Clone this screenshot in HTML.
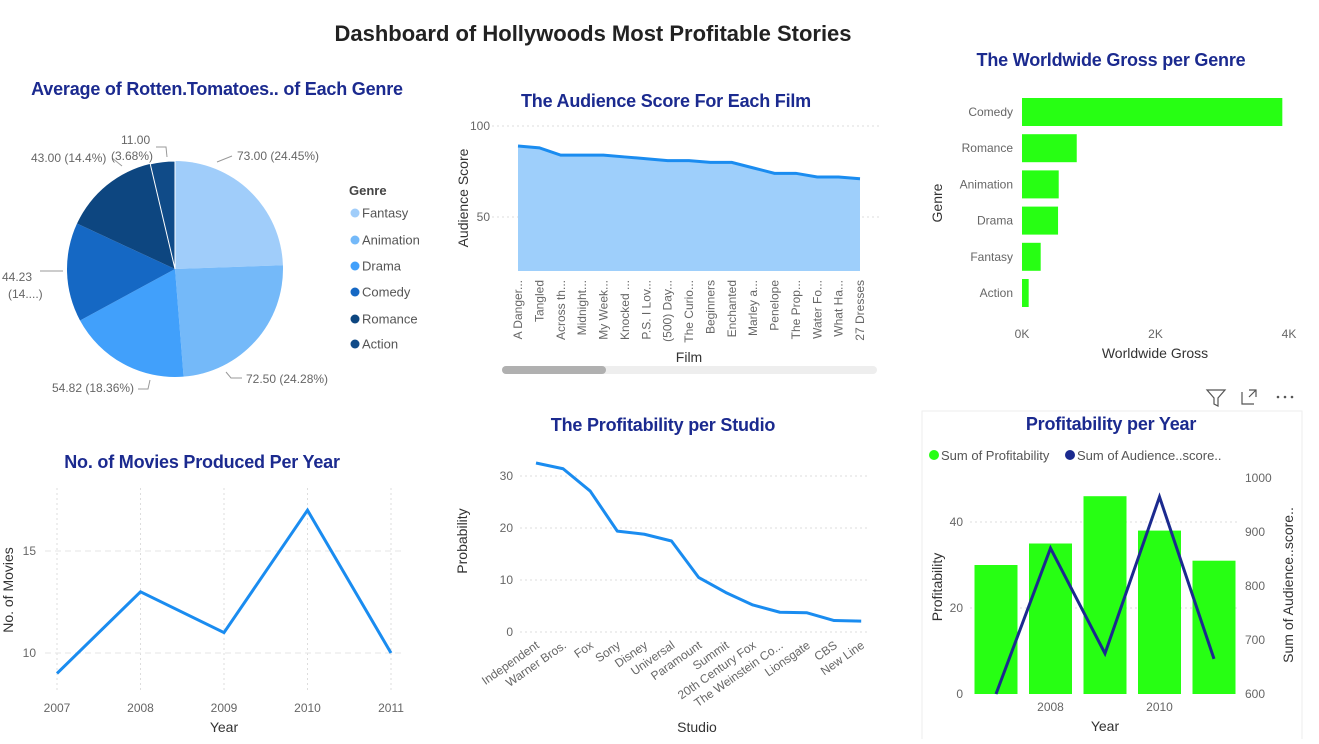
<!DOCTYPE html>
<html><head><meta charset="utf-8"><style>
body{margin:0;background:#fff;width:1319px;height:739px;overflow:hidden;font-family:"Liberation Sans",sans-serif}
svg text{font-family:"Liberation Sans",sans-serif}
.t{font-weight:bold;fill:#1b2a8f;font-size:18px;letter-spacing:-0.2px;text-anchor:middle}
.tk{fill:#666;font-size:12px}
.ax{fill:#333;font-size:14px;text-anchor:middle}
.grid{stroke:#ddd;stroke-dasharray:2,3}
</style></head><body>
<svg id="s" width="1319" height="739" xmlns="http://www.w3.org/2000/svg">
<text x="593" y="41" text-anchor="middle" font-weight="bold" font-size="22" fill="#222">Dashboard of Hollywoods Most Profitable Stories</text>
<text class="t" x="217" y="95">Average of Rotten.Tomatoes.. of Each Genre</text>
<text class="t" x="666" y="107">The Audience Score For Each Film</text>
<text class="t" x="1111" y="66">The Worldwide Gross per Genre</text>
<text class="t" x="202" y="468">No. of Movies Produced Per Year</text>
<text class="t" x="663" y="431">The Profitability per Studio</text>
<rect x="922" y="411" width="380" height="330" fill="none" stroke="#eee"/>
<text class="t" x="1111" y="430">Profitability per Year</text>
<g id="pie"></g><g id="aud"></g><g id="gross"></g><g id="mov"></g><g id="stu"></g><g id="prof"></g>
<g stroke="#555" fill="none" stroke-width="1.2">
<path d="M1207 390h18l-7 8v8l-4-2v-6z"/>
<path d="M1242 392v12h12M1249 390h7v7M1256 390l-7 7"/>
<g fill="#555" stroke="none"><circle cx="1278" cy="397" r="1.3"/><circle cx="1285" cy="397" r="1.3"/><circle cx="1292" cy="397" r="1.3"/></g>
</g>
</svg>
<script>
const NS="http://www.w3.org/2000/svg";
function mk(p,tag,a,txt){const e=document.createElementNS(NS,tag);for(const k in a)e.setAttribute(k,a[k]);if(txt!=null)e.textContent=txt;p.appendChild(e);return e;}
// Pie data
const pieGenres=["Fantasy","Animation","Drama","Comedy","Romance","Action"];
const pieValues=[73.00,72.50,54.82,44.23,43.00,11.00];
const pieColors=["#a0cdfa","#74b9f9","#41a0fb","#1568c4","#0d4680","#104b88"];
// Audience data
const films=["A Danger...","Tangled","Across th...","Midnight...","My Week...","Knocked ...","P.S. I Lov...","(500) Day...","The Curio...","Beginners","Enchanted","Marley a...","Penelope","The Prop...","Water Fo...","What Ha...","27 Dresses"];
const audScores=[89,88,84,84,84,83,82,81,81,80,80,77,74,74,72,72,71];
const audTicks=[50,100];
// Gross data
const grossGenres=["Comedy","Romance","Animation","Drama","Fantasy","Action"];
const grossValues=[3.9,0.82,0.55,0.54,0.28,0.1];
const grossTicks=[0,2,4];
// Movies per year
const years=[2007,2008,2009,2010,2011];
const movieCounts=[9,13,11,17,10];
const movieTicks=[10,15];
// Studios
const studios=["Independent","Warner Bros.","Fox","Sony","Disney","Universal","Paramount","Summit","20th Century Fox","The Weinstein Co...","Lionsgate","CBS","New Line"];
const studioValues=[32.5,31.4,27.1,19.4,18.8,17.5,10.5,7.6,5.2,3.8,3.7,2.2,2.1];
const studioTicks=[0,10,20,30];
// Profitability per year
const profYears=[2007,2008,2009,2010,2011];
const profValues=[30,35,46,38,31];
const audSums=[600,870,675,965,665];
const profTicks=[0,20,40];
const audSumTicks=[600,700,800,900,1000];

// PIE
(function(){const g=document.getElementById('pie');const cx=175,cy=269,r=108;const tot=pieValues.reduce((a,b)=>a+b,0);let a0=-Math.PI/2;
pieValues.forEach((v,i)=>{const a1=a0+v/tot*2*Math.PI;const x0=cx+r*Math.cos(a0),y0=cy+r*Math.sin(a0),x1=cx+r*Math.cos(a1),y1=cy+r*Math.sin(a1);
const p=mk(g,'path',{d:`M${cx} ${cy}L${x0} ${y0}A${r} ${r} 0 ${a1-a0>Math.PI?1:0} 1 ${x1} ${y1}Z`,fill:pieColors[i],stroke:i==5?'#fff':'none','stroke-width':i==5?1:0});


a0=a1;});
const labs=[[237,160,"73.00 (24.45%)",[[217,162],[232,156]]],[246,383,"72.50 (24.28%)",[[226,372],[231,378],[242,378]]],[52,392,"54.82 (18.36%)",[[150,380],[148,389],[138,389]]],[2,281,"44.23",[[40,271],[63,271]]],[8,298,"(14....)",[]],[31,162,"43.00 (14.4%)",[[112,158],[122,166]]],[121,144,"11.00",[[156,147],[166,147],[167,157]]],[111,160,"(3.68%)",[]]];
labs.forEach(l=>{const t=mk(g,'text',{x:l[0],y:l[1],class:'tk'},l[2]);
if(l[3].length){const pl=mk(g,'polyline',{points:l[3].map(p=>p.join(',')).join(' '),fill:'none',stroke:'#999'});}});
const lt=mk(g,'text',{x:349,y:195,'font-weight':'bold','font-size':13,fill:'#444'},'Genre');
const ly=[213,240,266,292,319,344];
pieGenres.forEach((n,i)=>{const e=mk(g,'g',{});
mk(e,'circle',{cx:355,cy:ly[i],r:4.5,fill:pieColors[i]});mk(e,'text',{x:362,y:ly[i]+4.5,'font-size':13,fill:'#555'},n);});})();

// AUDIENCE
(function(){const g=document.getElementById('aud');const x0=518,x1=860,yb=y=>217-(y-50)*1.82;const xs=i=>x0+i*(x1-x0)/(films.length-1);
audTicks.forEach(t=>{const l=mk(g,'line',{x1:492,x2:880,y1:yb(t),y2:yb(t),class:'grid'});
const tx=mk(g,'text',{x:490,y:yb(t)+4,class:'tk','text-anchor':'end','font-size':13},t);});
const yBase=yb(20.3);let d=`M${xs(0)} ${yBase}`;audScores.forEach((v,i)=>d+=`L${xs(i)} ${yb(v)}`);d+=`L${xs(films.length-1)} ${yBase}Z`;
const ar=mk(g,'path',{d,fill:'#9ecffb'});
const ln=mk(g,'polyline',{points:audScores.map((v,i)=>xs(i)+','+yb(v)).join(' '),fill:'none',stroke:'#1a8cf0','stroke-width':3});
films.forEach((f,i)=>{const t=mk(g,'text',{x:0,y:0,class:'tk','text-anchor':'end',transform:`translate(${xs(i)+4},${280}) rotate(-90)`},f);});
const yt=mk(g,'text',{class:'ax',transform:'translate(468,198) rotate(-90)'},'Audience Score');
const xt=mk(g,'text',{class:'ax',x:689,y:362},'Film');
const sb=mk(g,'rect',{x:502,y:366,width:375,height:8,rx:4,fill:'#eee'});
const th=mk(g,'rect',{x:502,y:366,width:104,height:8,rx:4,fill:'#b0b0b0'});})();

// GROSS
(function(){const g=document.getElementById('gross');const xs=v=>1022+v*66.75;const yc=i=>112+i*36.2;
grossValues.forEach((v,i)=>{const r=mk(g,'rect',{x:xs(0),y:yc(i)-14,width:xs(v)-xs(0),height:28,fill:'#27ff13'});
const t=mk(g,'text',{x:1013,y:yc(i)+4,class:'tk','text-anchor':'end'},grossGenres[i]);});
grossTicks.forEach(t=>{const x=mk(g,'text',{x:xs(t),y:338,class:'tk','text-anchor':'middle'},t+'K');});
const a=mk(g,'text',{class:'ax',x:1155,y:358},'Worldwide Gross');
const b=mk(g,'text',{class:'ax',transform:'translate(942,203) rotate(-90)'},'Genre');})();

// MOVIES
(function(){const g=document.getElementById('mov');const xs=i=>57+i*83.5;const ys=v=>551-(v-15)*20.4;
years.forEach((y,i)=>{const l=mk(g,'line',{x1:xs(i),x2:xs(i),y1:488,y2:690,class:'grid'});
const t=mk(g,'text',{x:xs(i),y:712,class:'tk','text-anchor':'middle'},y);});
movieTicks.forEach(t=>{const l=mk(g,'line',{x1:45,x2:405,y1:ys(t),y2:ys(t),stroke:'#e6e6e6','stroke-dasharray':'6,4'});
const x=mk(g,'text',{x:36,y:ys(t)+4,class:'tk','text-anchor':'end','font-size':13},t);});
const ln=mk(g,'polyline',{points:movieCounts.map((v,i)=>xs(i)+','+ys(v)).join(' '),fill:'none',stroke:'#1a8cf0','stroke-width':3});
const a=mk(g,'text',{class:'ax',x:224,y:732},'Year');
const b=mk(g,'text',{class:'ax',transform:'translate(13,590) rotate(-90)'},'No. of Movies');})();

// STUDIO
(function(){const g=document.getElementById('stu');const xs=i=>536+i*27.1;const ys=v=>632-v*5.2;
studioTicks.forEach(t=>{const l=mk(g,'line',{x1:520,x2:870,y1:ys(t),y2:ys(t),class:'grid'});
const x=mk(g,'text',{x:513,y:ys(t)+4,class:'tk','text-anchor':'end'},t);});
const ln=mk(g,'polyline',{points:studioValues.map((v,i)=>xs(i)+','+ys(v)).join(' '),fill:'none',stroke:'#1a8cf0','stroke-width':3,'stroke-linejoin':'round'});
studios.forEach((s,i)=>{const t=mk(g,'text',{class:'tk','text-anchor':'end',transform:`translate(${xs(i)+4},${647}) rotate(-35)`},s);});
const a=mk(g,'text',{class:'ax',x:697,y:732},'Studio');
const b=mk(g,'text',{class:'ax',transform:'translate(467,541) rotate(-90)'},'Probability');})();

// PROFIT
(function(){const g=document.getElementById('prof');const xs=i=>996+i*54.5;const yl=v=>694-v*4.3;const yr=v=>694-(v-600)*0.54;
profTicks.forEach(t=>{if(t>0){const l=mk(g,'line',{x1:970,x2:1240,y1:yl(t),y2:yl(t),class:'grid'});}
const x=mk(g,'text',{x:963,y:yl(t)+4,class:'tk','text-anchor':'end'},t);});
audSumTicks.forEach(t=>{const x=mk(g,'text',{x:1245,y:yr(t)+4,class:'tk'},t);});
profValues.forEach((v,i)=>{const r=mk(g,'rect',{x:xs(i)-21.5,y:yl(v),width:43,height:yl(0)-yl(v),fill:'#27ff13'});});
const ln=mk(g,'polyline',{points:audSums.map((v,i)=>xs(i)+','+yr(v)).join(' '),fill:'none',stroke:'#1b2a8f','stroke-width':3});
profYears.forEach((y,i)=>{if(y%2==0){const t=mk(g,'text',{x:xs(i),y:711,class:'tk','text-anchor':'middle'},y);}});
const a=mk(g,'text',{class:'ax',x:1105,y:731},'Year');
const b=mk(g,'text',{class:'ax',transform:'translate(942,587) rotate(-90)'},'Profitability');
const c=mk(g,'text',{class:'ax',transform:'translate(1293,585) rotate(-90)'},'Sum of Audience..score..');
const l1=mk(g,'g',{});
mk(l1,'circle',{cx:934,cy:455,r:5,fill:'#27ff13'});mk(l1,'text',{x:941,y:460,'font-size':13,fill:'#555'},'Sum of Profitability');
const l2=mk(g,'g',{});
mk(l2,'circle',{cx:1070,cy:455,r:5,fill:'#1b2a8f'});mk(l2,'text',{x:1077,y:460,'font-size':13,fill:'#555'},'Sum of Audience..score..');})();
</script>
</body></html>
